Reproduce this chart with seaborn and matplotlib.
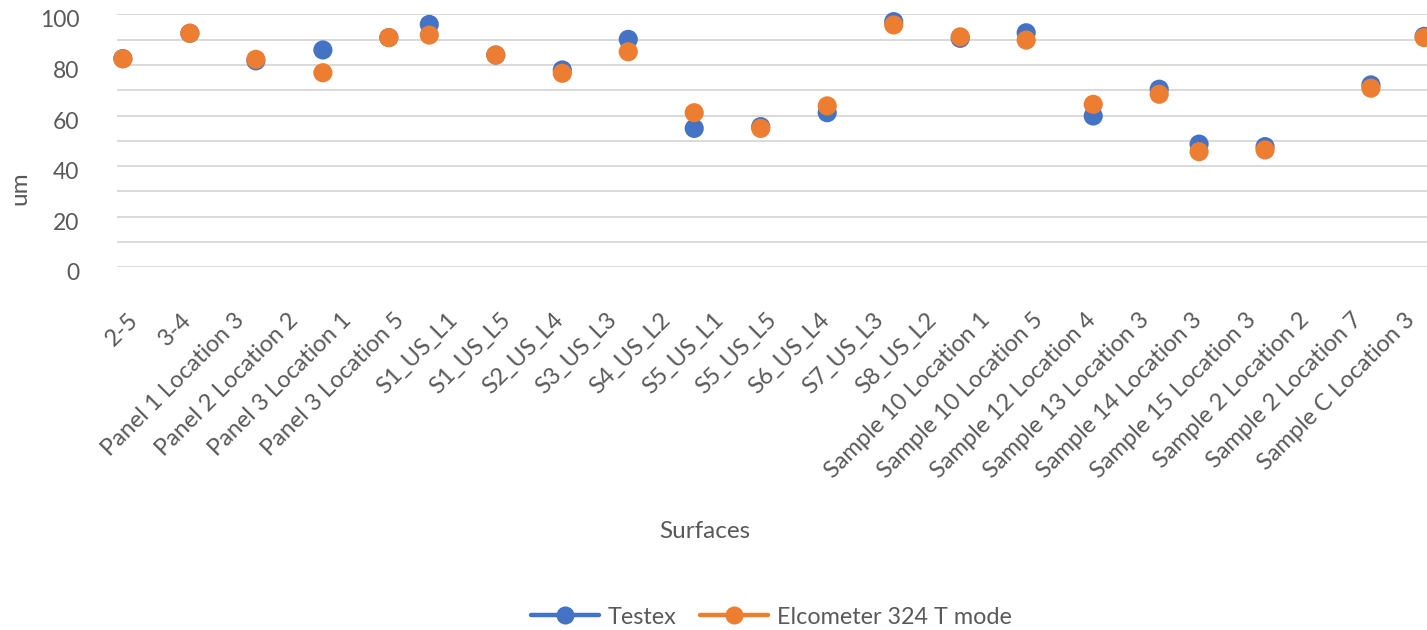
import matplotlib
matplotlib.use("Agg")
import matplotlib.pyplot as plt
import matplotlib.transforms as mtransforms
from matplotlib.lines import Line2D
import seaborn as sns
import pandas as pd

# ---------------- data ----------------
categories = [
    "2-5", "3-4", "Panel 1 Location 3", "Panel 2 Location 2", "Panel 3 Location 1",
    "Panel 3 Location 5", "S1_US_L1", "S1_US_L5", "S2_US_L4", "S3_US_L3",
    "S4_US_L2", "S5_US_L1", "S5_US_L5", "S6_US_L4", "S7_US_L3", "S8_US_L2",
    "Sample 10 Location 1", "Sample 10 Location 5", "Sample 12 Location 4",
    "Sample 13 Location 3", "Sample 14 Location 3", "Sample 15 Location 3",
    "Sample 2 Location 2", "Sample 2 Location 7", "Sample C Location 3",
]
# position of each measurement along the category axis (category units)
point_x = [-0.39, 0.87, 2.11, 3.37, 4.61, 5.37, 6.62, 7.87, 9.11, 10.35, 11.60,
           12.85, 14.10, 15.35, 16.59, 17.85, 19.09, 19.84, 21.08, 23.07, 24.07]
testex = [82.5, 92.5, 81.6, 85.9, 90.8, 96.0, 83.9, 78.0, 90.1, 54.9, 55.6,
          61.1, 97.1, 90.5, 92.7, 59.8, 70.4, 48.7, 47.7, 72.1, 91.3]
elcometer = [82.4, 92.5, 82.2, 76.9, 90.8, 91.8, 83.9, 76.7, 85.2, 61.1, 54.9,
             63.8, 95.8, 91.1, 89.8, 64.4, 68.4, 45.7, 46.4, 70.8, 90.8]
series_names = ["Testex", "Elcometer 324 T mode"]
y_ticks = [0, 20, 40, 60, 80, 100]

# ---------------- style ----------------
BLUE = "#4472C4"
ORANGE = "#ED7D31"
TEXT = "#595959"
GRID = "#D9D9D9"
FONT = ["Lato", "DejaVu Sans"]

sns.set_theme(style="white")
plt.rcParams["font.family"] = FONT

W, H = 1427, 630
fig = plt.figure(figsize=(W / 100, H / 100), dpi=100)
fig.patch.set_facecolor("white")

ax_left, ax_right = 117, 1447
ax_top, ax_bottom = 14.3, 267.3
ax = fig.add_axes([ax_left / W, 1 - ax_bottom / H,
                   (ax_right - ax_left) / W, (ax_bottom - ax_top) / H])

df = pd.DataFrame({
    "x": point_x + point_x,
    "y": testex + elcometer,
    "series": [series_names[0]] * len(testex) + [series_names[1]] * len(elcometer),
})

sns.scatterplot(data=df, x="x", y="y", hue="series", hue_order=series_names,
                palette=[BLUE, ORANGE], s=190, linewidth=0, marker="o",
                ax=ax, legend=False, clip_on=False, zorder=3)

ax.set_xlim(-0.5, len(categories) - 0.5)
ax.set_ylim(0, 100)
ax.set_yticks(range(0, 101, 10), minor=False)
ax.yaxis.grid(True, color=GRID, linewidth=1.4)
ax.xaxis.grid(False)
for sp in ax.spines.values():
    sp.set_visible(False)
ax.set_facecolor("white")

# y tick labels only every 20
ax.set_yticklabels([str(v) if v in y_ticks else "" for v in range(0, 101, 10)])
ax.tick_params(axis="y", length=0, pad=27, labelsize=16.5, labelcolor=TEXT)
for lab in ax.get_yticklabels():
    lab.set_transform(lab.get_transform() +
                      mtransforms.ScaledTranslation(0, -4.5 / 100, fig.dpi_scale_trans))

ax.set_xticks(range(len(categories)))
ax.set_xticklabels(categories, rotation=45, ha="right", va="top",
                   rotation_mode="anchor")
ax.tick_params(axis="x", length=0, pad=0, labelsize=17, labelcolor=TEXT)
for lab in ax.get_xticklabels():
    lab.set_transform(lab.get_transform() +
                      mtransforms.ScaledTranslation(-16 / 100, -42 / 100, fig.dpi_scale_trans))

ax.set_xlabel("")
ax.set_ylabel("")
fig.text(20 / W, 1 - 188 / H, "um", rotation=90, ha="center", va="center",
         fontsize=17.5, color=TEXT)
fig.text(705 / W, 1 - 532 / H, "Surfaces", ha="center", va="center",
         fontsize=17.5, color=TEXT)

handles = [Line2D([0], [0], color=c, lw=3.2, marker="o", markersize=13,
                  markeredgewidth=0) for c in (BLUE, ORANGE)]
leg = fig.legend(handles, series_names, loc="center",
                 bbox_to_anchor=(771 / W, 1 - 617 / H), ncol=2, frameon=False,
                 fontsize=16.8, handlelength=2.95, handletextpad=0.35,
                 columnspacing=1.0, borderpad=0, borderaxespad=0)
for t in leg.get_texts():
    t.set_color(TEXT)

fig.savefig("out.png", dpi=100, facecolor="white")
